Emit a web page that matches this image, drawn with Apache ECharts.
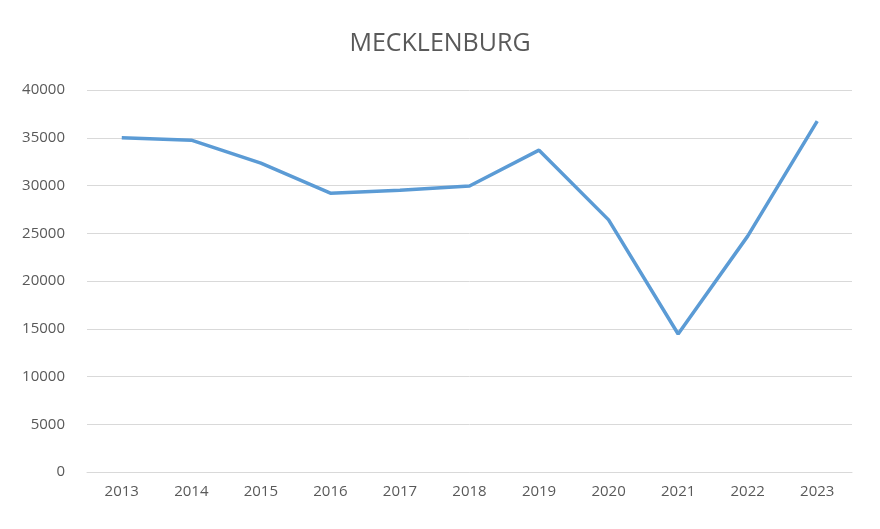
<!DOCTYPE html>
<html><head><meta charset="utf-8">
<script src="https://cdn.jsdelivr.net/npm/echarts@6/dist/echarts.min.js"></script>
<style>html,body{margin:0;padding:0;background:#fff}#c{width:880px;height:529px}</style>
</head><body><div id="c"></div>
<script>
const years = ['2013','2014','2015','2016','2017','2018','2019','2020','2021','2022','2023'];
const values = [35000,34750,32350,29200,29500,29950,33700,26400,14450,24700,36750];
const chart = echarts.init(document.getElementById('c'));
chart.setOption({
  animation:false,
  title:{text:'MECKLENBURG',left:'center',top:26,textStyle:{fontFamily:'Open Sans',fontSize:25,fontWeight:'normal',color:'#595959'}},
  grid:{left:87,right:28,top:90,bottom:57},
  xAxis:{type:'category',data:years,boundaryGap:true,
    axisLine:{lineStyle:{color:'#d9d9d9'}},axisTick:{show:false},
    axisLabel:{color:'#595959',fontSize:15,fontFamily:'Open Sans',margin:12}},
  yAxis:{type:'value',min:0,max:40000,interval:5000,
    axisLine:{show:false},axisTick:{show:false},
    splitLine:{lineStyle:{color:'#d9d9d9'}},
    axisLabel:{color:'#595959',fontSize:15,fontFamily:'Open Sans',margin:22,formatter:v=>String(v)}},
  series:[{type:'line',data:values,symbol:'none',lineStyle:{color:'#5B9BD5',width:3.5}}]
});
</script></body></html>
